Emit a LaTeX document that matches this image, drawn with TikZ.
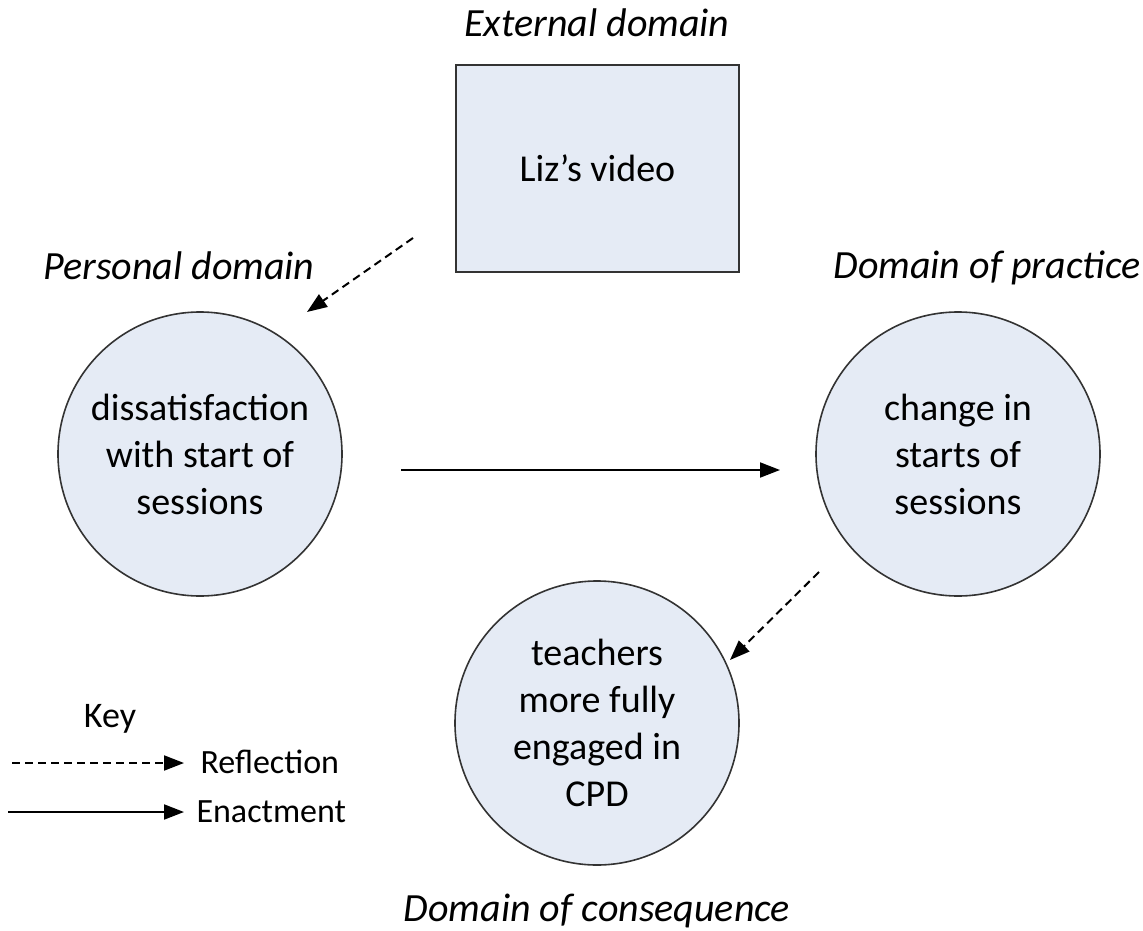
\documentclass[tikz,border=0pt]{standalone}
\usepackage{fontspec}
\setmainfont{Carlito}
\usetikzlibrary{arrows.meta}
\definecolor{bubble}{HTML}{E5EBF5}
\definecolor{rim}{HTML}{333333}
\begin{document}
\begin{tikzpicture}[x=1pt,y=-1pt,
  bubble/.style={circle,draw=rim,line width=1.6pt,fill=bubble,minimum size=284pt,inner sep=0pt,
    align=center,font=\fontsize{38}{47}\selectfont},
  source/.style={rectangle,draw=rim,line width=2pt,fill=bubble,minimum width=283pt,minimum height=207pt,
    font=\fontsize{38}{47}\selectfont},
  domainlabel/.style={anchor=base,font=\fontsize{40}{48}\selectfont\itshape},
  keytext/.style={anchor=base west,font=\fontsize{34}{40}\selectfont},
  reflect/.style={line width=2pt,dash pattern=on 8pt off 5pt,-{Triangle[length=20pt,width=15pt]}},
  enact/.style={line width=2pt,-{Triangle[length=20pt,width=15pt]}}]
\useasboundingbox (0,0) rectangle (1143,931);

% domain headings
\node[domainlabel] (hext) at (597,37) {External domain};
\node[domainlabel] (hpers) at (179,279) {Personal domain};
\node[domainlabel] (hprac) at (987,278) {Domain of practice};
\node[domainlabel] (hcons) at (597,921) {Domain of consequence};

% shapes
\node[source] (video) at (597.5,168.5) {Liz’s video};
\node[bubble] (dissat) at (200,454) {dissatisfaction\\with start of\\sessions};
\node[bubble] (change) at (958,454) {change in\\starts of\\sessions};
\node[bubble] (engage) at (597,723) {teachers\\more fully\\engaged in\\CPD};

% connector ends
\coordinate (r1s) at (413,238);
\coordinate (r1e) at (307,312);
\coordinate (e1s) at (401,470);
\coordinate (e1e) at (780,470);
\coordinate (r2s) at (819,572);
\coordinate (r2e) at (730,660);

\draw[reflect] (r1s) -- (r1e);
\draw[enact] (e1s) -- (e1e);
\draw[reflect] (r2s) -- (r2e);

% key
\node[anchor=base,font=\fontsize{36}{42}\selectfont] (key) at (110,727) {Key};
\node[keytext] (kref) at (197,773) {Reflection};
\node[keytext] (kena) at (193,822) {Enactment};
\coordinate (k1s) at (12,763);
\coordinate (k1e) at (184,763);
\coordinate (k2s) at (8,812);
\coordinate (k2e) at (184,812);
\draw[reflect] (k1s) -- (k1e);
\draw[enact] (k2s) -- (k2e);
\end{tikzpicture}
\end{document}
